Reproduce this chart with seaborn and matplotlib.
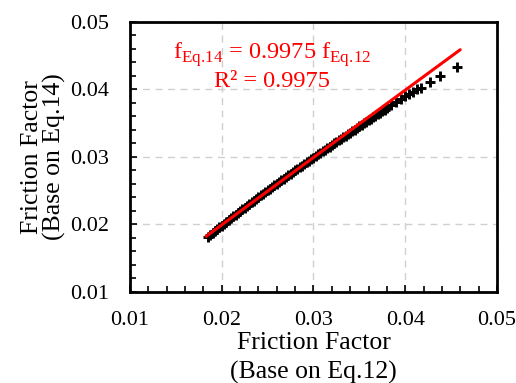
import matplotlib
matplotlib.use("Agg")
import matplotlib.pyplot as plt
import seaborn as sns
import pandas as pd
from matplotlib.ticker import MultipleLocator

# data
f_eq12 = [0.01850, 0.01875, 0.01900, 0.01925, 0.01950, 0.01975, 0.02000, 0.02025, 0.02050, 0.02075,
          0.02100, 0.02125, 0.02150, 0.02175, 0.02200, 0.02225, 0.02250, 0.02275, 0.02300, 0.02325,
          0.02350, 0.02375, 0.02400, 0.02425, 0.02450, 0.02475, 0.02500, 0.02525, 0.02550, 0.02575,
          0.02600, 0.02625, 0.02650, 0.02675, 0.02700, 0.02725, 0.02750, 0.02775, 0.02800, 0.02825,
          0.02850, 0.02875, 0.02900, 0.02925, 0.02950, 0.02975, 0.03000, 0.03025, 0.03050, 0.03075,
          0.03100, 0.03125, 0.03150, 0.03175, 0.03200, 0.03225, 0.03250, 0.03275, 0.03300, 0.03325,
          0.03350, 0.03375, 0.03400, 0.03425, 0.03450, 0.03475, 0.03500, 0.03525, 0.03550, 0.03575,
          0.03600, 0.03625, 0.03650, 0.03675, 0.03700, 0.03725, 0.03750, 0.03775, 0.03800, 0.03850,
          0.03900, 0.03950, 0.04000, 0.04040, 0.04090, 0.04130, 0.04170, 0.04270, 0.04380, 0.04570]
f_eq14 = [0.01820, 0.01848, 0.01875, 0.01903, 0.01930, 0.01958, 0.01985, 0.02012, 0.02040, 0.02066,
          0.02093, 0.02120, 0.02147, 0.02173, 0.02199, 0.02225, 0.02251, 0.02277, 0.02303, 0.02329,
          0.02354, 0.02380, 0.02405, 0.02431, 0.02456, 0.02481, 0.02506, 0.02531, 0.02556, 0.02581,
          0.02606, 0.02630, 0.02655, 0.02680, 0.02704, 0.02728, 0.02752, 0.02777, 0.02801, 0.02825,
          0.02849, 0.02873, 0.02897, 0.02921, 0.02944, 0.02968, 0.02991, 0.03015, 0.03038, 0.03061,
          0.03085, 0.03108, 0.03131, 0.03154, 0.03177, 0.03200, 0.03223, 0.03246, 0.03269, 0.03292,
          0.03315, 0.03338, 0.03361, 0.03384, 0.03407, 0.03430, 0.03452, 0.03475, 0.03497, 0.03520,
          0.03542, 0.03564, 0.03586, 0.03608, 0.03635, 0.03658, 0.03680, 0.03703, 0.03726, 0.03772,
          0.03810, 0.03855, 0.03900, 0.03930, 0.03970, 0.04000, 0.04020, 0.04110, 0.04200, 0.04330]
fit_x = [0.0183, 0.0460]
fit_y = [0.01825, 0.04589]
ticks = [0.01, 0.02, 0.03, 0.04, 0.05]
tick_labels = ["0.01", "0.02", "0.03", "0.04", "0.05"]

sns.set_theme(style="white")
plt.rcParams["font.family"] = ["Liberation Serif", "DejaVu Serif"]
plt.rcParams["mathtext.fontset"] = "custom"
plt.rcParams["mathtext.rm"] = "Liberation Serif"

fig = plt.figure(figsize=(5.16, 3.83), dpi=100)
ax = fig.add_axes([0.252, 0.2376, 0.711, 0.705])

df = pd.DataFrame({"x": f_eq12, "y": f_eq14})
sns.scatterplot(data=df, x="x", y="y", marker="+", color="black", s=50,
                linewidth=2.1, ax=ax, zorder=2)
sns.lineplot(x=fit_x, y=fit_y, color="#ff0000", linewidth=2.2, ax=ax, zorder=3)

ax.set_xlim(0.01, 0.05)
ax.set_ylim(0.01, 0.05)
ax.set_xticks(ticks)
ax.set_xticklabels(tick_labels)
ax.set_yticks(ticks)
ax.set_yticklabels(tick_labels)
ax.xaxis.set_minor_locator(MultipleLocator(0.002))
ax.yaxis.set_minor_locator(MultipleLocator(0.002))
ax.tick_params(which="both", direction="in", bottom=True, left=True, top=False, right=False,
               width=1.2, color="black")
ax.tick_params(which="major", length=5, labelsize=16, colors="black")
ax.tick_params(axis="x", which="major", pad=14)
ax.tick_params(axis="y", which="major", pad=15)
ax.tick_params(which="minor", length=4)
ax.grid(True, which="major", linestyle=(0, (5, 4)), color="#d0d0d0", linewidth=1)
for s in ax.spines.values():
    s.set_color("black")
    s.set_linewidth(2)

ax.set_xlabel("Friction Factor\n(Base on Eq.12)", fontsize=18.5, color="black", labelpad=1,
              linespacing=1.4)
ax.set_ylabel("Friction Factor\n(Base on Eq.14)", fontsize=18.5, color="black", labelpad=3,
              linespacing=1.0)

ax.text(0.0255, 0.04452, r"f$_{\mathrm{Eq.\!14}}$ = 0.9975 f$_{\mathrm{Eq.\!12}}$", color="#ff0000",
        fontsize=17.5, ha="center", va="baseline")
ax.text(0.0255, 0.04037, "R² = 0.9975", color="#ff0000", fontsize=17.5, ha="center", va="baseline")

fig.savefig("out.png", dpi=100)
